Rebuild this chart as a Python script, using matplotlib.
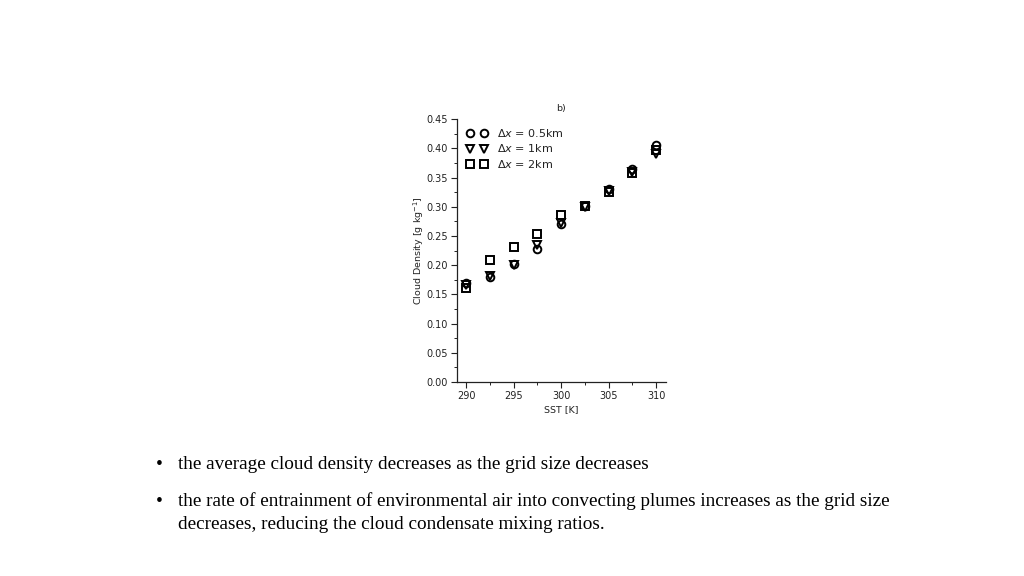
import matplotlib
matplotlib.use("Agg")
import matplotlib.pyplot as plt
from matplotlib.ticker import MultipleLocator

sst = [290, 292.5, 295, 297.5, 300, 302.5, 305, 307.5, 310]
dens_05km = [0.170, 0.180, 0.202, 0.228, 0.270, 0.302, 0.330, 0.364, 0.405]
dens_1km = [0.166, 0.181, 0.201, 0.235, 0.272, 0.300, 0.327, 0.360, 0.390]
dens_2km = [0.160, 0.208, 0.231, 0.254, 0.286, 0.301, 0.325, 0.358, 0.398]
labels = [r'$\Delta x$ = 0.5km', r'$\Delta x$ = 1km', r'$\Delta x$ = 2km']
x_ticks = [290, 295, 300, 305, 310]
y_ticks = [0.00, 0.05, 0.10, 0.15, 0.20, 0.25, 0.30, 0.35, 0.40, 0.45]

ink = '#222222'
fig = plt.figure(figsize=(10.24, 5.76), dpi=100)
ax = fig.add_axes([0.446, 0.337, 0.204, 0.456])

mk = dict(linestyle='none', markerfacecolor='none', markeredgecolor='black',
          markeredgewidth=1.4, markersize=5.5)
ax.plot(sst, dens_05km, marker='o', label=labels[0], **mk)
ax.plot(sst, dens_1km, marker='v', label=labels[1], **mk)
ax.plot(sst, dens_2km, marker='s', label=labels[2], **mk)

ax.set_xlim(289, 311)
ax.set_ylim(0, 0.45)
ax.set_xticks(x_ticks)
ax.set_yticks(y_ticks)
ax.set_yticklabels([f'{v:.2f}' for v in y_ticks])
ax.xaxis.set_minor_locator(MultipleLocator(2.5))
ax.yaxis.set_minor_locator(MultipleLocator(0.025))
ax.tick_params(labelsize=7, colors=ink, length=4, pad=2.5)
ax.tick_params(which='minor', length=2.5)
for s in ['top', 'right']:
    ax.spines[s].set_visible(False)
for s in ['left', 'bottom']:
    ax.spines[s].set_linewidth(0.9)
    ax.spines[s].set_color(ink)
ax.set_xlabel('SST [K]', fontsize=6.8, labelpad=3, color=ink)
ax.set_ylabel(r'Cloud Density [g kg$^{-1}$]', fontsize=6.8, labelpad=0, color=ink)
ax.set_title('b)', fontsize=6.8, pad=6, color=ink)
leg = ax.legend(loc='upper left', bbox_to_anchor=(0.0, 1.008), numpoints=2,
                frameon=False, fontsize=8, handlelength=1.85,
                handletextpad=0.9, labelspacing=0.3, borderaxespad=0.5)
for t in leg.get_texts():
    t.set_color(ink)

serif = 'Liberation Serif'
fig.text(0.152, 0.194, '•', fontsize=14, family=serif, va='center')
fig.text(0.174, 0.194, 'the average cloud density decreases as the grid size decreases',
         fontsize=13.8, family=serif, va='center')
fig.text(0.152, 0.130, '•', fontsize=14, family=serif, va='center')
fig.text(0.174, 0.130, 'the rate of entrainment of environmental air into convecting plumes increases as the grid size',
         fontsize=13.8, family=serif, va='center')
fig.text(0.174, 0.090, 'decreases, reducing the cloud condensate mixing ratios.',
         fontsize=13.8, family=serif, va='center')

fig.savefig('out.png', dpi=100)
